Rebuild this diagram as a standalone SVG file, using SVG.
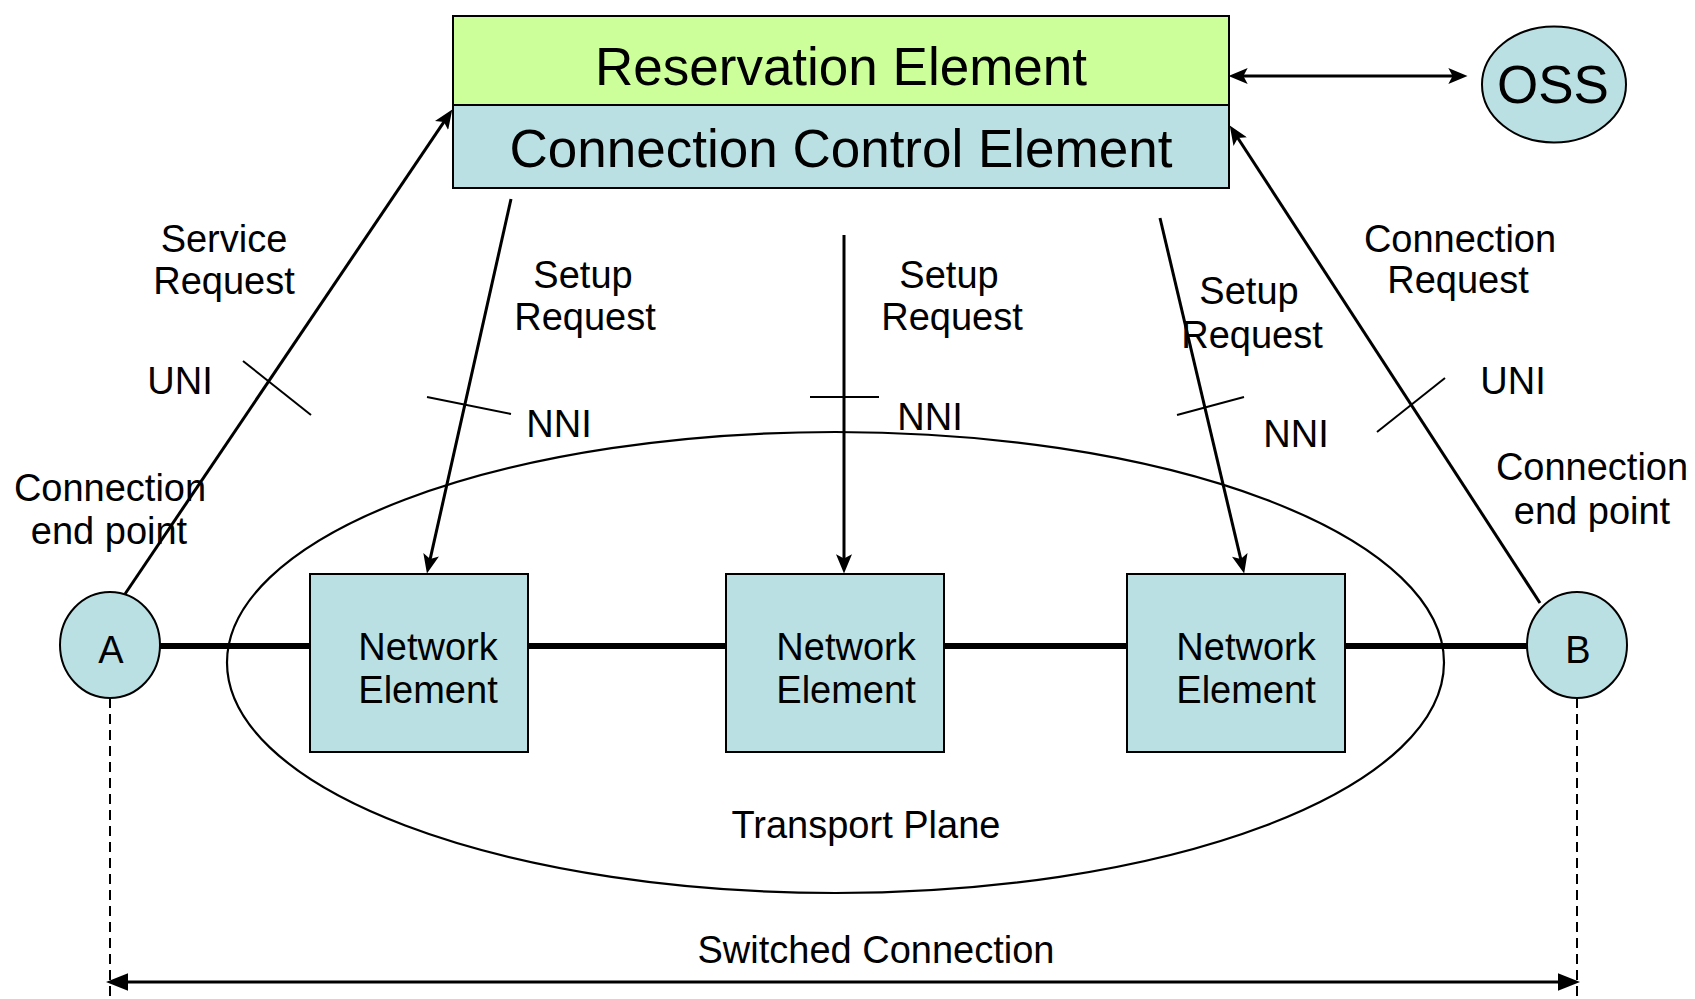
<svg xmlns="http://www.w3.org/2000/svg" width="1695" height="999" viewBox="0 0 1695 999">
<style>
text{font-family:"Liberation Sans",Arial,sans-serif;fill:#000;text-anchor:middle}
.lbl{font-size:38px}
.big{font-size:53px}
.blue{fill:#BBE0E3;stroke:#000;stroke-width:2}
.green{fill:#CCFF99;stroke:#000;stroke-width:2}
.arr{stroke:#000;stroke-width:3;fill:none}
.tick{stroke:#000;stroke-width:2;fill:none}
.dash{stroke:#000;stroke-width:2;stroke-dasharray:10 6;fill:none}
</style>
<defs>
<marker id="ah" markerUnits="userSpaceOnUse" markerWidth="20" markerHeight="16" refX="10" refY="7.5" orient="auto-start-reverse" viewBox="0 0 18 15">
<path d="M0,0 L18,7.5 L0,15 L4,7.5 z" fill="#000"/>
</marker>
<marker id="ah2" markerUnits="userSpaceOnUse" markerWidth="22" markerHeight="18" refX="10" refY="8" orient="auto-start-reverse" viewBox="0 0 20 16">
<path d="M0,0 L20,8 L0,16 z" fill="#000"/>
</marker>
</defs>

<g id="transport-plane">
<ellipse cx="835.5" cy="662.5" rx="608.5" ry="230.5" fill="none" stroke="#000" stroke-width="2.2"/>
<text class="lbl" x="866" y="838">Transport Plane</text>
</g>

<g id="connectors">
<line x1="160" y1="646" x2="1527" y2="646" stroke="#000" stroke-width="6"/>
<line class="dash" x1="110" y1="698" x2="110" y2="999"/>
<line class="dash" x1="1577" y1="698" x2="1577" y2="999"/>
<line class="arr" x1="117" y1="982" x2="1569" y2="982" stroke-width="4" marker-start="url(#ah2)" marker-end="url(#ah2)"/>
<line class="arr" x1="1237" y1="76" x2="1459" y2="76" marker-start="url(#ah)" marker-end="url(#ah)"/>
<line class="arr" x1="125" y1="594" x2="447.5" y2="116.6" marker-end="url(#ah)"/>
<line class="arr" x1="1540" y1="603" x2="1234.4" y2="132.7" marker-end="url(#ah)"/>
<line class="arr" x1="511" y1="199" x2="428.8" y2="565.2" marker-end="url(#ah)"/>
<line class="arr" x1="844" y1="235" x2="844" y2="565" marker-end="url(#ah)"/>
<line class="arr" x1="1160" y1="218" x2="1242.2" y2="565.2" marker-end="url(#ah)"/>
<line class="tick" x1="243" y1="361" x2="311" y2="415"/>
<line class="tick" x1="427" y1="397" x2="511" y2="414"/>
<line class="tick" x1="810" y1="397" x2="879" y2="397"/>
<line class="tick" x1="1177" y1="415" x2="1244" y2="397"/>
<line class="tick" x1="1377" y1="432" x2="1445" y2="378"/>
</g>

<g id="labels">
<text class="lbl" x="224" y="252">Service</text>
<text class="lbl" x="224" y="294">Request</text>
<text class="lbl" x="180" y="394">UNI</text>
<text class="lbl" x="110" y="501">Connection</text>
<text class="lbl" x="109" y="544">end point</text>
<text class="lbl" x="583" y="288">Setup</text>
<text class="lbl" x="585" y="330">Request</text>
<text class="lbl" x="559" y="437">NNI</text>
<text class="lbl" x="949" y="288">Setup</text>
<text class="lbl" x="952" y="330">Request</text>
<text class="lbl" x="930" y="430">NNI</text>
<text class="lbl" x="1249" y="304">Setup</text>
<text class="lbl" x="1252" y="348">Request</text>
<text class="lbl" x="1296" y="447">NNI</text>
<text class="lbl" x="1460" y="252">Connection</text>
<text class="lbl" x="1458" y="293">Request</text>
<text class="lbl" x="1513" y="394">UNI</text>
<text class="lbl" x="1592" y="480">Connection</text>
<text class="lbl" x="1592" y="524">end point</text>
<text class="lbl" x="876" y="963">Switched Connection</text>
</g>

<g id="control-box">
<rect class="green" x="453" y="16" width="776" height="89"/>
<rect class="blue" x="453" y="105" width="776" height="83"/>
<text class="big" x="841" y="85">Reservation Element</text>
<text class="big" x="841" y="167">Connection Control Element</text>
</g>

<g id="oss">
<ellipse class="blue" cx="1554" cy="84.5" rx="72" ry="58"/>
<text class="big" x="1553" y="103">OSS</text>
</g>

<g id="ne1">
<rect class="blue" x="310" y="574" width="218" height="178"/>
<text class="lbl" x="428" y="660">Network</text>
<text class="lbl" x="428" y="703">Element</text>
</g>
<g id="ne2">
<rect class="blue" x="726" y="574" width="218" height="178"/>
<text class="lbl" x="846" y="660">Network</text>
<text class="lbl" x="846" y="703">Element</text>
</g>
<g id="ne3">
<rect class="blue" x="1127" y="574" width="218" height="178"/>
<text class="lbl" x="1246" y="660">Network</text>
<text class="lbl" x="1246" y="703">Element</text>
</g>

<g id="node-a">
<ellipse class="blue" cx="110" cy="645" rx="50" ry="53"/>
<text class="lbl" x="111" y="663">A</text>
</g>
<g id="node-b">
<ellipse class="blue" cx="1577" cy="645" rx="50" ry="53"/>
<text class="lbl" x="1578" y="663">B</text>
</g>
</svg>
